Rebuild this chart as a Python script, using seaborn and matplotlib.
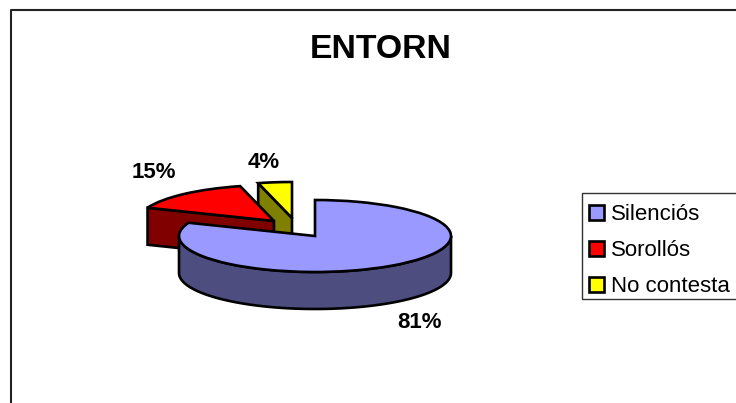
import numpy as np
import matplotlib
matplotlib.use("Agg")
import matplotlib.pyplot as plt
from matplotlib.lines import Line2D
from matplotlib.patches import Polygon, Rectangle
import seaborn as sns

categories = ["Silenciós", "Sorollós", "No contesta"]
values = [81, 15, 4]
top_colors = ["#9999FF", "#FF0000", "#FFFF00"]
side_colors = ["#4D4D80", "#800000", "#808000"]

W, H = 736, 403
CX, CY = 315, 236
RX, RY = 136, 36
DEPTH = 37 / RY
LW = 1.9
FONT = 16.0

sns.set_theme(style="white")
plt.rcParams["font.family"] = ["Liberation Sans", "DejaVu Sans"]
plt.rcParams["font.size"] = FONT


def to_data(px, py):
    return (px - CX) / RX, (CY - py) / RY


def on_rim(center, deg):
    return center[0] + np.cos(np.radians(deg)), center[1] + np.sin(np.radians(deg))


def side_face(ax, pts, color):
    # pts is the top edge, the lower edge is the same one pushed down
    pts = list(pts)
    lower = [(x, y - DEPTH) for x, y in reversed(pts)]
    ax.add_patch(Polygon(pts + lower, closed=True, facecolor=color, edgecolor="black",
                         linewidth=LW, joinstyle="miter", zorder=2))


fig = plt.figure(figsize=(W / 100, H / 100), dpi=100)
ax = fig.add_axes([0, 0, 1, 1])

wedges, _ = ax.pie(values, colors=top_colors, startangle=90, counterclock=False,
                   wedgeprops={"edgecolor": "black", "linewidth": LW, "joinstyle": "miter"})
ax.set_aspect("auto")
ax.set_xlim(to_data(0, 0)[0], to_data(W, 0)[0])
ax.set_ylim(to_data(0, H)[1], to_data(0, 0)[1])
ax.axis("off")

# pulled out slices
wedges[1].set_center(to_data(274, 221))
wedges[2].set_center(to_data(292, 218))

# cut faces of the pulled out slices, yellow one goes behind the red one
for i, (w, color) in enumerate(zip(wedges[1:], side_colors[1:])):
    side_face(ax, [w.center, on_rim(w.center, w.theta2)], color)
    ax.patches[-1].set_zorder(2.5 - i)
    w.set_zorder(3.5 - i)

# front wall of the big slice
front = np.linspace(-180, 0, 80)
side_face(ax, [on_rim(wedges[0].center, a) for a in front], side_colors[0])
ax.patches[-1].set_zorder(4)
wedges[0].set_zorder(5)

ax.text(*to_data(154, 173), f"{values[1]}%", fontweight="bold", ha="center", va="center", color="black")
ax.text(*to_data(264, 162), f"{values[2]}%", fontweight="bold", ha="center", va="center", color="black")
ax.text(*to_data(420, 323), f"{values[0]}%", fontweight="bold", ha="center", va="center", color="black")
ax.text(*to_data(381, 49), "ENTORN", fontweight="bold", fontsize=24.3, ha="center", va="center", color="black")

# chart frame, only left and top fall inside the picture
fig.add_artist(Line2D([11 / W, 11 / W, 1], [0, 1 - 10 / H, 1 - 10 / H], color="#222222", linewidth=1.5))

# legend box drawn apart, the rows sit lower in it than legend padding allows
ax.add_patch(Rectangle(to_data(582, 299), (W + 10 - 582) / RX, 106 / RY, facecolor="white",
                       edgecolor="#333333", linewidth=1.0, zorder=9))

leg = ax.legend(wedges, categories, loc="upper left", bbox_to_anchor=(581 / W, 1 - 196 / H),
                bbox_transform=fig.transFigure, frameon=False,
                fontsize=FONT, handlelength=0.68, handleheight=0.68, handletextpad=0.3,
                labelspacing=0.68, borderpad=0.36, borderaxespad=0, labelcolor="black")
leg.set_zorder(10)
for h in leg.legend_handles:
    h.set_linewidth(LW)

fig.savefig("out.png", dpi=100)
